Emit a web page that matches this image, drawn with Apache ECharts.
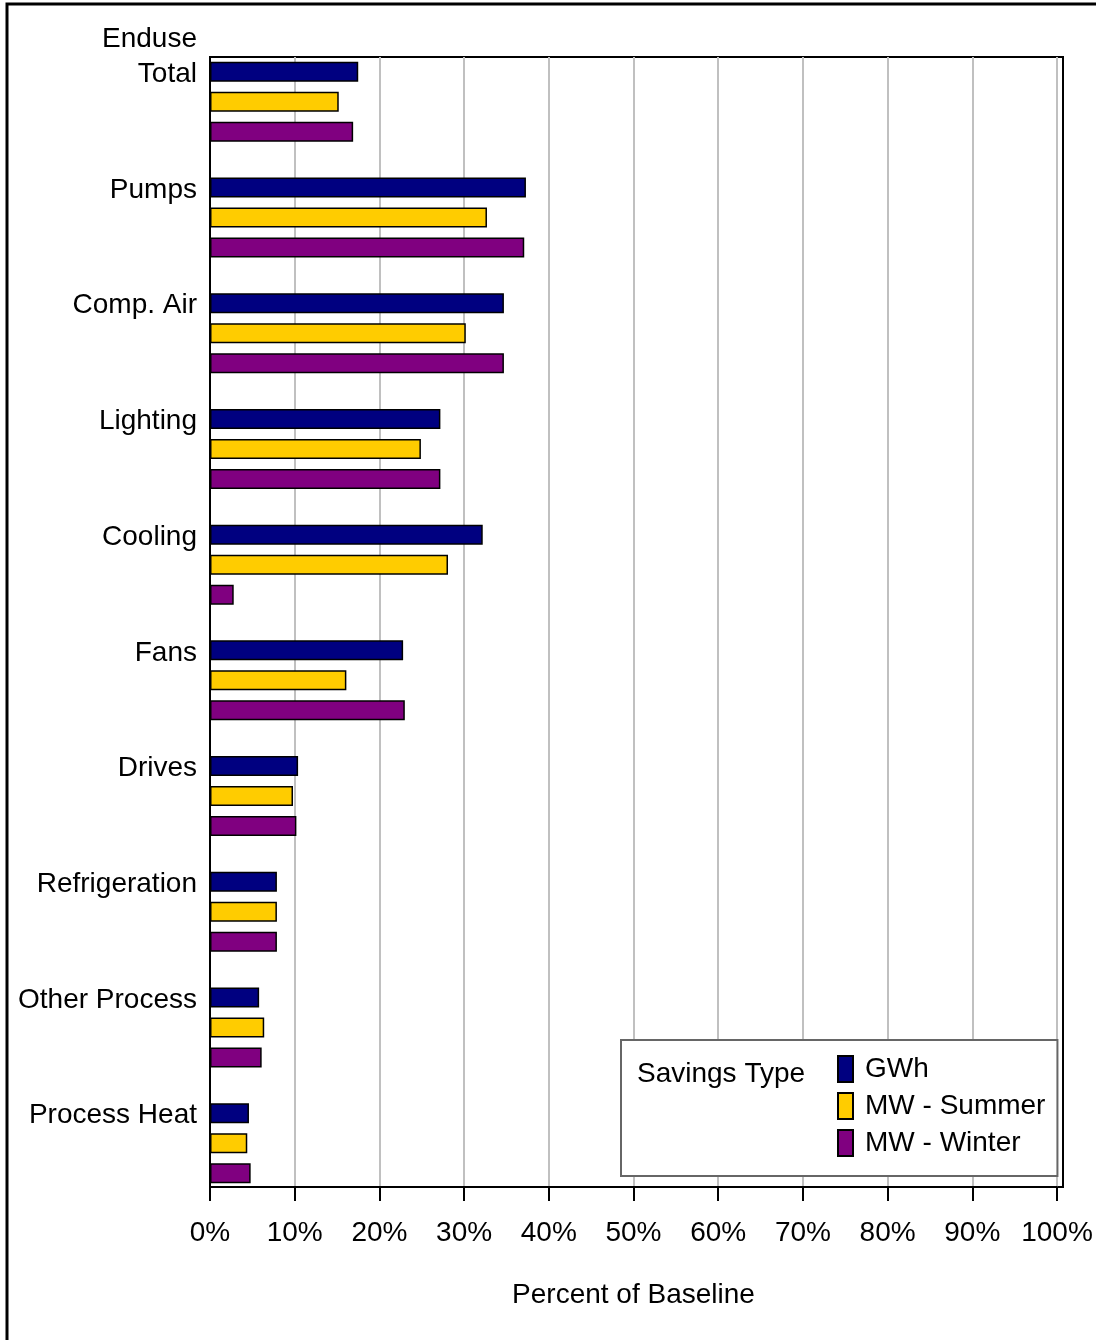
<!DOCTYPE html>
<html>
<head>
<meta charset="utf-8">
<script src="https://cdn.jsdelivr.net/npm/echarts@6/dist/echarts.min.js"></script>
<style>
  html, body { margin: 0; padding: 0; background: #fff; }
  #main { width: 1096px; height: 1340px; }
</style>
</head>
<body>
<div id="main"></div>
<script>
var categories = ['Enduse\nTotal', 'Pumps', 'Comp. Air', 'Lighting', 'Cooling', 'Fans', 'Drives', 'Refrigeration', 'Other Process', 'Process Heat'];
var gwh = [17.5, 37.3, 34.7, 27.2, 32.2, 22.8, 10.4, 7.9, 5.8, 4.6];
var mwSummer = [15.2, 32.7, 30.2, 24.9, 28.1, 16.1, 9.8, 7.9, 6.4, 4.4];
var mwWinter = [16.9, 37.1, 34.7, 27.2, 2.8, 23.0, 10.2, 7.9, 6.1, 4.8];
var xTicks = [0, 10, 20, 30, 40, 50, 60, 70, 80, 90, 100];

var FONT = 'Liberation Sans, Arial, sans-serif';

var chart = echarts.init(document.getElementById('main'));

function barSeries(name, data, color) {
  return {
    name: name,
    type: 'bar',
    xAxisIndex: 0,
    yAxisIndex: 0,
    data: data,
    barWidth: 20,
    barGap: '50%',
    itemStyle: { color: color, borderColor: '#000', borderWidth: 1.5 }
  };
}

// grid 0 holds the bars (slightly taller band spacing, like the original),
// grid 1 carries the visible value axis, grid 2 just draws the plot frame
var option = {
  backgroundColor: '#fff',
  animation: false,
  textStyle: { fontFamily: FONT, color: '#000' },
  graphic: [{
    type: 'rect',
    shape: { x: 7, y: 4, width: 1110, height: 1360 },
    style: { fill: null, stroke: '#000', lineWidth: 3 },
    silent: true
  }],
  title: {
    text: 'Savings Type',
    left: 632,
    top: 1055,
    z: 10,
    textStyle: { fontFamily: FONT, fontSize: 28, fontWeight: 'normal', color: '#000' }
  },
  legend: {
    orient: 'vertical',
    left: 621,
    top: 1040,
    icon: 'rect',
    itemWidth: 15,
    itemHeight: 26,
    itemGap: 9,
    padding: [15, 12, 19, 216],
    borderColor: '#666',
    borderWidth: 2,
    backgroundColor: '#fff',
    textStyle: { fontFamily: FONT, fontSize: 28, color: '#000', padding: [0, 0, 0, 7] },
    data: ['GWh', 'MW - Summer', 'MW - Winter']
  },
  grid: [{
    left: 210, top: 44, right: 39, bottom: 139,
    show: false
  }, {
    left: 210, top: 57, right: 39, bottom: 153,
    show: false
  }, {
    left: 210, top: 57, right: 33, bottom: 153,
    show: true, borderColor: '#000', borderWidth: 2, backgroundColor: 'transparent'
  }],
  xAxis: [{
    gridIndex: 0,
    type: 'value',
    min: xTicks[0],
    max: xTicks[xTicks.length - 1],
    interval: 10,
    show: false,
    splitLine: { show: false }
  }, {
    gridIndex: 1,
    type: 'value',
    min: xTicks[0],
    max: xTicks[xTicks.length - 1],
    interval: 10,
    axisLine: { show: true, lineStyle: { color: '#000', width: 2 } },
    axisTick: { show: true, length: 14, lineStyle: { color: '#000', width: 2 } },
    axisLabel: { formatter: '{value}%', fontSize: 28, color: '#000', margin: 32, fontFamily: FONT },
    splitLine: { show: true, lineStyle: { color: '#c0c0c0', width: 2 } },
    name: 'Percent of Baseline',
    nameLocation: 'middle',
    nameGap: 94,
    nameTextStyle: { fontSize: 28, color: '#000', fontFamily: FONT }
  }, {
    gridIndex: 2, type: 'value', show: false
  }],
  yAxis: [{
    gridIndex: 0,
    type: 'category',
    inverse: true,
    data: categories,
    axisLine: { show: false },
    axisTick: { show: false },
    axisLabel: {
      fontSize: 28,
      color: '#000',
      fontFamily: FONT,
      margin: 13,
      lineHeight: 35,
      verticalAlign: 'bottom',
      padding: [0, 0, 10, 0]
    },
    splitLine: { show: false }
  }, {
    gridIndex: 1,
    type: 'category',
    data: categories,
    axisLine: { show: true, lineStyle: { color: '#000', width: 2 } },
    axisTick: { show: false },
    axisLabel: { show: false },
    splitLine: { show: false }
  }, {
    gridIndex: 2, type: 'category', show: false
  }],
  series: [
    barSeries('GWh', gwh, '#000080'),
    barSeries('MW - Summer', mwSummer, '#FFCC00'),
    barSeries('MW - Winter', mwWinter, '#800080')
  ]
};

chart.setOption(option);
</script>
</body>
</html>
